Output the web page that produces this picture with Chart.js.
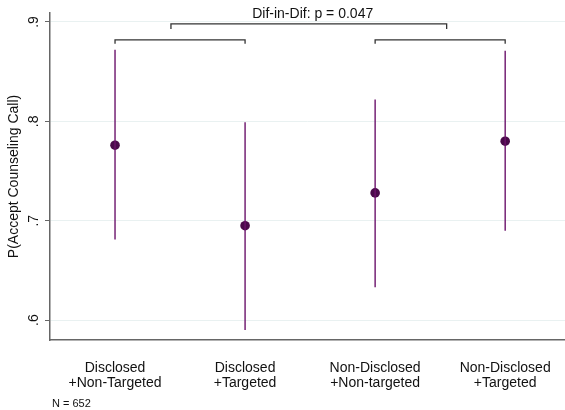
<!DOCTYPE html>
<html>
<head>
<meta charset="utf-8">
<script src="https://cdn.jsdelivr.net/npm/chart.js@4.4.0/dist/chart.umd.min.js"></script>
<style>
    html, body { margin: 0; padding: 0; background: #fff; }
    #wrap { width: 565px; height: 410px; position: relative; }
</style>
</head>
<body>
<div id="wrap"><canvas id="chart"></canvas></div>
<script>
// Data
const categories = [
    ['Disclosed', '+Non-Targeted'],
    ['Disclosed', '+Targeted'],
    ['Non-Disclosed', '+Non-targeted'],
    ['Non-Disclosed', '+Targeted']
];
const estimates = [0.776, 0.695, 0.728, 0.780];
const ciLow = [0.681, 0.590, 0.633, 0.690];
const ciHigh = [0.872, 0.799, 0.822, 0.871];
const yTicks = [0.6, 0.7, 0.8, 0.9];
const yTickLabels = ['.6', '.7', '.8', '.9'];

// Comparison brackets (x in category units, y in probability units)
const outerBracket = [[0.43, 0.893], [0.43, 0.898], [2.55, 0.898], [2.55, 0.893]];
const leftBracket = [[0, 0.878], [0, 0.882], [1, 0.882], [1, 0.878]];
const rightBracket = [[2, 0.878], [2, 0.882], [3, 0.882], [3, 0.878]];
const bracketLabel = 'Dif-in-Dif: p = 0.047';
const noteText = 'N = 652';

const FONT = '"Liberation Sans", Arial, Helvetica, sans-serif';
const dotColor = '#4a0a4a';
const barColor = '#6b126b';

const toPts = arr => arr.map(p => ({ x: p[0], y: p[1] }));

const bracketSets = [outerBracket, leftBracket, rightBracket].map(b => ({
    type: 'line',
    data: toPts(b),
    borderColor: '#333',
    borderWidth: 1.3,
    pointRadius: 0,
    fill: false,
    tension: 0
}));

const errorSets = categories.map((c, i) => ({
    type: 'line',
    data: [{ x: i, y: ciLow[i] }, { x: i, y: ciHigh[i] }],
    borderColor: barColor,
    borderWidth: 1.4,
    pointRadius: 0,
    fill: false
}));

// Extra text: rotated y tick labels, bracket label, sample size
const extras = {
    id: 'extras',
    afterDraw(chart) {
        const c = chart.ctx;
        const ys = chart.scales.y;
        const xs = chart.scales.x;
        c.save();
        c.fillStyle = '#111';
        c.font = '14px ' + FONT;
        c.textAlign = 'center';
        c.textBaseline = 'middle';
        yTicks.forEach((v, i) => {
            c.save();
            c.translate(34, ys.getPixelForValue(v));
            c.rotate(-Math.PI / 2);
            c.fillText(yTickLabels[i], 0, 0);
            c.restore();
        });
        c.fillText(bracketLabel, xs.getPixelForValue(1.52), 14);
        c.font = '11px ' + FONT;
        c.textAlign = 'left';
        c.fillText(noteText, 52, 404);
        c.restore();
    }
};

new Chart(document.getElementById('chart'), {
    type: 'scatter',
    data: {
        datasets: [
            ...errorSets,
            ...bracketSets,
            {
                type: 'scatter',
                data: estimates.map((v, i) => ({ x: i, y: v })),
                backgroundColor: dotColor,
                borderColor: dotColor,
                borderWidth: 0,
                pointRadius: 4.8,
                pointHoverRadius: 4.8
            }
        ]
    },
    options: {
        responsive: true,
        maintainAspectRatio: false,
        animation: false,
        layout: { autoPadding: false, padding: { top: 13, right: 0, left: 0, bottom: 0 } },
        plugins: {
            legend: { display: false },
            tooltip: { enabled: false }
        },
        scales: {
            x: {
                type: 'linear',
                min: -0.5,
                max: 3.46,
                afterBuildTicks: axis => { axis.ticks = categories.map((c, i) => ({ value: i })); },
                afterFit: axis => {
                    axis.height = 70;
                    axis.paddingLeft = 0;
                    axis.paddingRight = 0;
                },
                grid: { display: false, drawTicks: false },
                border: { display: true, color: '#666', width: 1.5 },
                ticks: {
                    padding: 20,
                    maxRotation: 0,
                    autoSkip: false,
                    color: '#111',
                    font: { family: FONT, size: 14, lineHeight: 1.1 },
                    callback: v => categories[v] || ''
                }
            },
            y: {
                min: 0.58,
                max: 0.909,
                afterBuildTicks: axis => { axis.ticks = yTicks.map(v => ({ value: v })); },
                afterFit: axis => { axis.width = 50; },
                grid: { color: '#e9f1f1', lineWidth: 1, tickColor: '#666', tickLength: 5 },
                border: { display: true, color: '#666', width: 1.5 },
                ticks: { display: false },
                title: {
                    display: true,
                    text: 'P(Accept Counseling Call)',
                    color: '#111',
                    padding: { top: 6, bottom: 0 },
                    font: { family: FONT, size: 14 }
                }
            }
        }
    },
    plugins: [extras]
});
</script>
</body>
</html>
